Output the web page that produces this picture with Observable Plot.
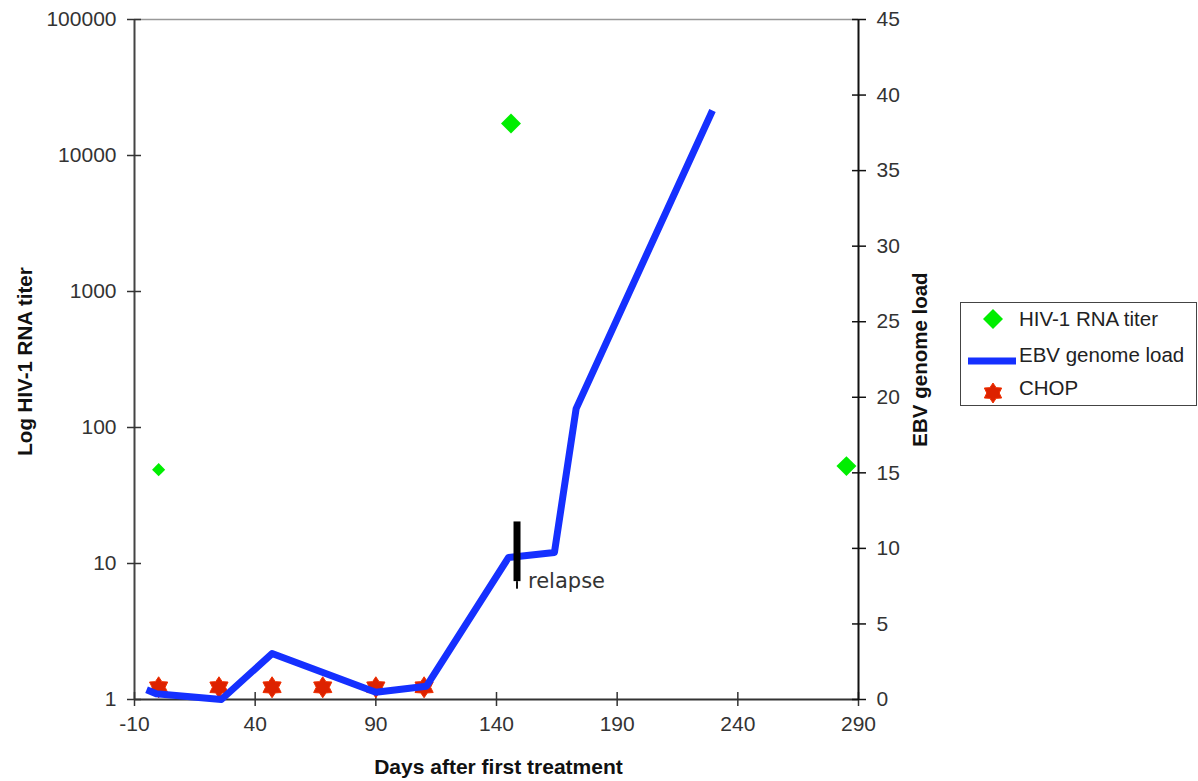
<!DOCTYPE html>
<html><head><meta charset="utf-8">
<script src="https://cdn.jsdelivr.net/npm/d3@7"></script>
<script src="https://cdn.jsdelivr.net/npm/@observablehq/plot@0.6"></script>
<style>
body{margin:0;background:#fff;}
#wrap{position:relative;width:1198px;height:781px;font-family:"Liberation Sans",Arial,sans-serif;}
#wrap > svg{position:absolute;left:0;top:0;}
#legend{position:absolute;left:960px;top:302px;width:237px;height:104px;border:1.5px solid #444;background:#fff;box-sizing:border-box;}
#legend .sym{position:absolute;}
#legend .lbl{position:absolute;left:58px;font-size:20.5px;color:#222;line-height:22px;white-space:nowrap;}
</style></head><body><div id="wrap"></div>
<script>
// ---- data ----
const xTicks = [-10, 40, 90, 140, 190, 240, 290];
const hivTicks = [1, 10, 100, 1000, 10000, 100000];
const ebvTicks = [0, 5, 10, 15, 20, 25, 30, 35, 40, 45];

const hivDays = [0, 146, 285];
const hivTiter = [49, 17200, 52];

const ebvDays = [-5, -1, 26, 47, 90, 111, 145, 164, 173, 229.5];
const ebvLoad = [0.64, 0.38, 0, 3.04, 0.48, 0.88, 9.4, 9.73, 19.25, 38.98];

const chopDays = [0, 25, 47, 68, 90, 110];
const chopLevel = [1.23, 1.23, 1.23, 1.23, 1.23, 1.23];

const relapseDay = [148.5];
const relapseLow = [7.8];
const relapseHigh = [11.75];
const relapseTip = [7.3];
const relapseLabel = ["relapse"];

const seriesNames = ["HIV-1 RNA titer", "EBV genome load", "CHOP"];
const xTitle = "Days after first treatment";
const yLeftTitle = "Log HIV-1 RNA titer";
const yRightTitle = "EBV genome load";

// ---- tables ----
const hiv = hivDays.map((d, i) => ({day: d, titer: hivTiter[i]}));
const ebv = ebvDays.map((d, i) => ({day: d, load: ebvLoad[i]}));
const chop = chopDays.map((d, i) => ({day: d, level: chopLevel[i]}));
const relapse = relapseDay.map((d, i) => ({day: d, lo: relapseLow[i], hi: relapseHigh[i], tip: relapseTip[i], text: relapseLabel[i]}));

const hexagram = {
  draw(ctx, size) {
    const r = Math.sqrt(size / Math.PI), ri = r * 0.62;
    for (let i = 0; i < 12; i++) {
      const a = i * Math.PI / 6 - Math.PI / 2;
      const rr = i % 2 ? ri : r;
      const px = rr * Math.cos(a), py = rr * Math.sin(a);
      if (i === 0) ctx.moveTo(px, py); else ctx.lineTo(px, py);
    }
    ctx.closePath();
  }
};

const W = 1198, H = 781, mL = 134, mR = 340, mT = 19, mB = 82;
const font = '"Liberation Sans", Arial, sans-serif';
const GREEN = "#00ee00", BLUE = "#1530ff", RED = "#dd2200";

const plot1 = Plot.plot({
  width: W, height: H, marginLeft: mL, marginRight: mR, marginTop: mT, marginBottom: mB,
  x: {domain: [-10, 290], label: null},
  y: {type: "log", domain: [1, 100000], label: null},
  style: {fontFamily: font, fontSize: "21px", color: "#222", background: "white"},
  marks: [
    Plot.ruleY([100000], {stroke: "#999", strokeWidth: 1.5}),
    Plot.ruleX([-10], {stroke: "#444", strokeWidth: 2}),
    Plot.ruleY([1], {stroke: "#333", strokeWidth: 2}),
    Plot.axisX(xTicks, {anchor: "bottom", tickSize: 14, dy: -7, stroke: "#333", strokeWidth: 1.5, tickFormat: () => ""}),
    Plot.axisX(xTicks, {anchor: "bottom", tickSize: 0, tickPadding: 17, fill: "#333", fontSize: 21, tickFormat: d => String(d)}),
    Plot.axisY(hivTicks, {anchor: "left", tickSize: 14, dx: 7, stroke: "#333", strokeWidth: 1.5, tickFormat: () => ""}),
    Plot.axisY(hivTicks, {anchor: "left", tickSize: 0, tickPadding: 18, fill: "#333", fontSize: 21, tickFormat: d => String(d)}),
    Plot.text([xTitle], {text: d => d, frameAnchor: "bottom", dy: 74, dx: 2, fontWeight: "bold", fontSize: 21, fill: "#111"}),
    Plot.text([yLeftTitle], {text: d => d, frameAnchor: "left", dx: -109, dy: 2, rotate: -90, textAnchor: "middle", fontWeight: "bold", fontSize: 20.5, fill: "#111"}),
    Plot.dot(chop, {x: "day", y: "level", symbol: hexagram, r: 10.5, fill: RED, stroke: "#f03000", strokeWidth: 1}),
    Plot.dot(hiv, {filter: (d, i) => i === 0, x: "day", y: "titer", symbol: "diamond2", r: 5.9, fill: GREEN, stroke: "none"}),
    Plot.dot(hiv, {filter: (d, i) => i > 0, x: "day", y: "titer", symbol: "diamond2", r: 9, fill: GREEN, stroke: "none"})
  ]
});

const plot2 = Plot.plot({
  width: W, height: H, marginLeft: mL, marginRight: mR, marginTop: mT, marginBottom: mB,
  x: {domain: [-10, 290], label: null, axis: null},
  y: {domain: [0, 45], label: null, axis: null},
  style: {fontFamily: font, fontSize: "21px", color: "#222", background: "transparent"},
  marks: [
    Plot.ruleX([290], {stroke: "#111", strokeWidth: 2}),
    Plot.axisY(ebvTicks, {anchor: "right", tickSize: 14, dx: -7, stroke: "#111", strokeWidth: 1.5, tickFormat: () => ""}),
    Plot.axisY(ebvTicks, {anchor: "right", tickSize: 0, tickPadding: 18, fill: "#333", fontSize: 21, tickFormat: d => String(d)}),
    Plot.text([yRightTitle], {text: d => d, frameAnchor: "right", dx: 62, rotate: -90, textAnchor: "middle", fontWeight: "bold", fontSize: 20.5, fill: "#111"}),
    Plot.line(ebv, {x: "day", y: "load", stroke: BLUE, strokeWidth: 7, strokeLinejoin: "round", strokeLinecap: "butt"}),
    Plot.ruleX(relapse, {x: "day", y1: "tip", y2: "lo", stroke: "#111", strokeWidth: 2}),
    Plot.ruleX(relapse, {x: "day", y1: "lo", y2: "hi", stroke: "#000", strokeWidth: 7}),
    Plot.text(relapse, {x: "day", y: "lo", text: "text", dx: 11, textAnchor: "start", fontFamily: "DejaVu Sans", fontSize: 21, fill: "#333"})
  ]
});

const wrap = document.getElementById("wrap");
wrap.appendChild(plot1);
wrap.appendChild(plot2);

// ---- legend ----
const legend = document.createElement("div");
legend.id = "legend";
const rowsY = [16, 52, 86];
const symSvgs = [
  `<svg width="22" height="22" viewBox="-11 -11 22 22"><path d="M0,-10L10,0L0,10L-10,0Z" fill="${GREEN}"/></svg>`,
  `<svg width="48" height="10" viewBox="0 0 48 10"><line x1="0" y1="5" x2="48" y2="5" stroke="${BLUE}" stroke-width="7"/></svg>`,
  `<svg width="22" height="22" viewBox="-11 -11 22 22"><path d="${(() => { const p = d3.path(); hexagram.draw(p, Math.PI * 100); return p.toString(); })()}" fill="${RED}" stroke="#f03000"/></svg>`
];
const symLeft = [21, 7, 21];
const symH = [22, 10, 22];
const lblDy = [0, 0, -1];
seriesNames.forEach((name, i) => {
  const s = document.createElement("div");
  s.className = "sym";
  s.style.left = symLeft[i] + "px";
  s.style.top = (rowsY[i] - symH[i] / 2 + (i === 1 ? 2 : 0) + (i === 2 ? 4 : 0)) + "px";
  s.innerHTML = symSvgs[i];
  legend.appendChild(s);
  const t = document.createElement("div");
  t.className = "lbl";
  t.style.top = (rowsY[i] - 11 + lblDy[i]) + "px";
  t.textContent = name;
  legend.appendChild(t);
});
wrap.appendChild(legend);
</script>
</body></html>
